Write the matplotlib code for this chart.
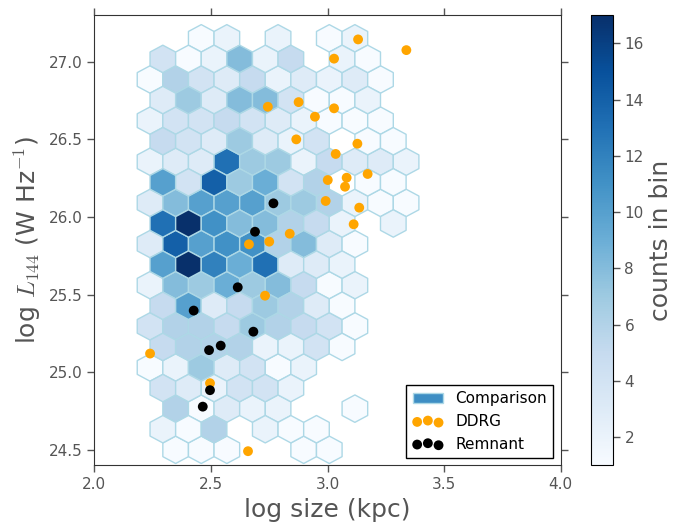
import numpy as np
import matplotlib
matplotlib.use('Agg')
import matplotlib.pyplot as plt
from matplotlib.patches import Patch

# hexbin lattice of the comparison sample (row index k, half-column index h, counts)
bin_row = [20]*5 + [19]*8 + [18]*10 + [17]*9 + [16]*10 + [15]*9 + [14]*11 + [13]*9 + [12]*11 + \
          [11]*9 + [10]*9 + [9]*8 + [8]*9 + [7]*8 + [6]*9 + [5]*8 + [4]*7 + [3]*6 + [2]*6 + [1]*6 + [0]*5
bin_col = [4, 6, 10, 14, 16,
           1, 3, 5, 7, 9, 11, 15, 17,
           0, 2, 4, 6, 8, 10, 12, 14, 16, 18,
           1, 3, 5, 7, 9, 11, 13, 15, 17,
           0, 2, 4, 6, 8, 10, 12, 14, 16, 18,
           1, 3, 5, 7, 9, 11, 13, 17, 19,
           0, 2, 4, 6, 8, 10, 12, 14, 16, 18, 20,
           1, 3, 5, 7, 9, 11, 13, 17, 19,
           0, 2, 4, 6, 8, 10, 12, 14, 16, 18, 20,
           1, 3, 5, 7, 9, 11, 13, 15, 19,
           0, 2, 4, 6, 8, 10, 12, 14, 16,
           1, 3, 5, 7, 9, 11, 13, 15,
           0, 2, 4, 6, 8, 10, 12, 14, 16,
           1, 3, 5, 7, 9, 11, 13, 15,
           0, 2, 4, 6, 8, 10, 12, 14, 16,
           1, 3, 5, 7, 9, 11, 13, 15,
           0, 2, 4, 6, 8, 10, 12,
           1, 3, 5, 7, 9, 11,
           2, 4, 6, 8, 10, 16,
           1, 3, 5, 9, 11, 13,
           2, 4, 6, 12, 14]
bin_count = [1, 2, 2, 1, 2,
             4, 1, 2, 8, 2, 5, 2, 1,
             1, 6, 4, 3, 5, 2, 3, 2, 3, 1,
             3, 7, 3, 8, 8, 4, 1, 1, 2,
             2, 4, 4, 5, 4, 3, 2, 1, 1, 1,
             5, 4, 3, 7, 3, 2, 4, 1, 1,
             2, 3, 3, 13, 7, 7, 2, 5, 3, 3, 2,
             10, 4, 14, 7, 9, 4, 6, 1, 1,
             3, 8, 10, 10, 10, 7, 7, 6, 2, 1, 1,
             13, 17, 11, 8, 8, 6, 5, 2, 2,
             3, 14, 10, 11, 11, 6, 8, 3, 1,
             10, 17, 12, 9, 13, 3, 3, 2,
             2, 8, 7, 9, 7, 8, 5, 1, 2,
             5, 10, 3, 5, 7, 6, 3, 1,
             4, 6, 6, 5, 7, 6, 5, 4, 1,
             5, 6, 6, 6, 2, 2, 4, 1,
             1, 2, 7, 3, 4, 1, 2,
             4, 3, 2, 4, 4, 2,
             6, 1, 3, 2, 2, 1,
             2, 1, 6, 2, 1, 1,
             1, 1, 1, 1, 1]

# DDRG sample
ddrg_size = [3.131, 3.338, 3.028, 2.744, 2.876, 3.028, 2.946, 2.866, 3.128, 3.035, 3.001, 3.082,
             3.075, 3.172, 2.992, 3.136, 3.112, 2.838, 2.750, 2.663, 2.732, 2.239, 2.496, 2.659]
ddrg_lum = [27.144, 27.075, 27.02, 26.71, 26.74, 26.70, 26.646, 26.50, 26.472, 26.406, 26.238, 26.253,
            26.195, 26.277, 26.103, 26.06, 25.953, 25.892, 25.841, 25.824, 25.493, 25.12, 24.929, 24.491]

# remnant sample
rem_size = [2.768, 2.689, 2.615, 2.426, 2.682, 2.492, 2.542, 2.496, 2.465]
rem_lum = [26.088, 25.905, 25.547, 25.397, 25.261, 25.142, 25.171, 24.884, 24.778]

# grid geometry
x0, y0 = 2.2389, 24.5
sx, sy = 0.1098, 0.2651
nx, ny = 10, 10

gray = '#555555'
plt.rcParams['mathtext.fontset'] = 'cm'
plt.rcParams['xtick.direction'] = 'out'
plt.rcParams['ytick.direction'] = 'out'

fig = plt.figure(figsize=(6.86, 5.24), dpi=100)
ax = fig.add_axes([0.1375, 0.112, 0.6799, 0.859])
cax = fig.add_axes([0.861, 0.112, 0.032, 0.859])

hx = x0 + np.array(bin_col) * sx / 2.
hy = y0 + np.array(bin_row) * sy / 2.
hb = ax.hexbin(hx, hy, C=np.array(bin_count, dtype=float), reduce_C_function=np.sum,
               gridsize=(nx, ny), extent=(x0, x0 + nx * sx, y0, y0 + ny * sy),
               cmap='Blues', edgecolors='lightblue', linewidths=1.0, vmin=1, vmax=17)

ax.scatter(ddrg_size, ddrg_lum, s=50, color='orange', edgecolors='none', zorder=3)
ax.scatter(rem_size, rem_lum, s=50, color='black', edgecolors='none', zorder=3)

ax.set_xlim(2.0, 4.0)
ax.set_ylim(24.4, 27.3)
ax.set_xticks([2.0, 2.5, 3.0, 3.5, 4.0])
ax.set_yticks([24.5, 25.0, 25.5, 26.0, 26.5, 27.0])
ax.tick_params(top=True, right=True, labelsize=11, colors=gray, length=5, width=1)
for sp in ax.spines.values():
    sp.set_color('#333333')
ax.set_xlabel('log size (kpc)', fontsize=18, color=gray)
ax.set_ylabel(r'log $L_{144}$ (W Hz$^{-1}$)', fontsize=18, color=gray)

handles = [Patch(facecolor=plt.cm.Blues(0.64), edgecolor='lightblue'),
           ax.scatter([], [], s=50, color='orange', edgecolors='none'),
           ax.scatter([], [], s=50, color='black', edgecolors='none')]
leg = ax.legend(handles, ['Comparison', 'DDRG', 'Remnant'], loc='lower right', fontsize=11,
                scatterpoints=3, fancybox=False, framealpha=1, borderaxespad=0.5)
leg.get_frame().set_edgecolor('black')

cb = fig.colorbar(hb, cax=cax, ticks=[2, 4, 6, 8, 10, 12, 14, 16])
cb.ax.tick_params(labelsize=11, colors=gray, length=5, width=1)
cb.outline.set_edgecolor('black')
cb.set_label('counts in bin', fontsize=18, color=gray)

fig.savefig('out.png', dpi=100)
